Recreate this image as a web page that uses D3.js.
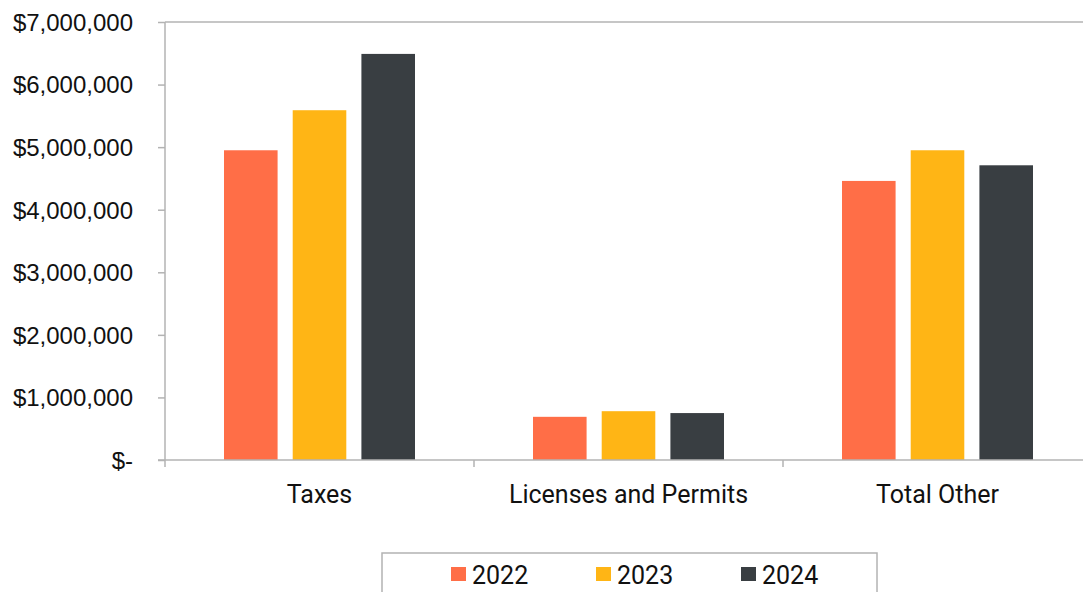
<!DOCTYPE html>
<html lang="en">
<head>
<meta charset="utf-8">
<script src="https://d3js.org/d3.v7.min.js"></script>
<style>
  body { margin: 0; background: #fff; font-family: Roboto, "Open Sans", sans-serif; }
  svg { display: block; }
  .axis text { fill: #111; }
</style>
</head>
<body>
<div id="chart"></div>
<script>
// data
var categories = ["Taxes", "Licenses and Permits", "Total Other"];
var years = ["2022", "2023", "2024"];
var values2022 = [4950000, 690000, 4460000];
var values2023 = [5590000, 780000, 4950000];
var values2024 = [6490000, 750000, 4710000];
var yTicks = [0, 1000000, 2000000, 3000000, 4000000, 5000000, 6000000, 7000000];
var colors = ["#ff6e47", "#ffb515", "#393e42"];

var width = 1083, height = 592;
var margin = {left: 165, right: -9, top: 22, bottom: 132};

var svg = d3.select("#chart").append("svg")
  .attr("width", width).attr("height", height);

var x0 = d3.scaleBand()
  .domain(categories)
  .range([margin.left, width - margin.right]);

var x1 = d3.scaleBand()
  .domain(years)
  .range([0, 191])
  .paddingInner(0.22);

var y = d3.scaleLinear()
  .domain([0, 7000000])
  .range([height - margin.bottom, margin.top]);

var series = [values2022, values2023, values2024];

// top frame line
svg.append("line")
  .attr("x1", margin.left).attr("x2", width)
  .attr("y1", y(7000000)).attr("y2", y(7000000))
  .attr("stroke", "#b3b3b3").attr("stroke-width", 1.5);

// bars
categories.forEach(function(c, i) {
  var g = svg.append("g")
    .attr("transform", "translate(" + (x0(c) + x0.bandwidth() / 2 - 95.5) + ",0)");
  years.forEach(function(yr, j) {
    g.append("rect")
      .attr("x", x1(yr))
      .attr("width", x1.bandwidth())
      .attr("y", y(series[j][i]))
      .attr("height", y(0) - y(series[j][i]))
      .attr("fill", colors[j]);
  });
});

// y axis
var fmt = d3.format(",");
var yAxis = d3.axisLeft(y)
  .tickValues(yTicks)
  .tickSize(7)
  .tickPadding(25)
  .tickFormat(function(d) { return d === 0 ? "$-" : "$" + fmt(d); });

var ya = svg.append("g").attr("class", "axis")
  .attr("transform", "translate(" + margin.left + ",0)")
  .call(yAxis);
ya.selectAll("text").style("font-size", "24px").attr("dy", "0.35em");
ya.selectAll("line, path").attr("stroke", "#b3b3b3").attr("stroke-width", 1.5);
ya.select("path").attr("d", "M0," + y(7000000) + "V" + y(0));

// x axis
var xa = svg.append("g").attr("class", "axis")
  .attr("transform", "translate(0," + y(0) + ")");
xa.append("line")
  .attr("x1", margin.left - 7).attr("x2", width)
  .attr("stroke", "#b3b3b3").attr("stroke-width", 1.5);
var bounds = categories.map(function(c) { return x0(c); });
bounds.forEach(function(b) {
  xa.append("line").attr("x1", b).attr("x2", b).attr("y1", 0).attr("y2", 7)
    .attr("stroke", "#b3b3b3").attr("stroke-width", 1.5);
});
xa.selectAll(".cat").data(categories).enter().append("text")
  .attr("class", "cat")
  .attr("x", function(d) { return x0(d) + x0.bandwidth() / 2; })
  .attr("y", 43)
  .attr("text-anchor", "middle")
  .style("font-size", "25px")
  .text(function(d) { return d; });

// legend
var lg = svg.append("g").attr("transform", "translate(382,553)");
lg.append("rect")
  .attr("x", 0).attr("y", 0).attr("width", 495).attr("height", 50)
  .attr("fill", "#fff").attr("stroke", "#b3b3b3").attr("stroke-width", 1.5);
var lx = d3.scalePoint().domain(years).range([69, 359]);
years.forEach(function(yr, j) {
  lg.append("rect")
    .attr("x", lx(yr)).attr("y", 14)
    .attr("width", 15).attr("height", 14)
    .attr("fill", colors[j]);
  lg.append("text")
    .attr("x", lx(yr) + 21).attr("y", 31)
    .style("font-size", "25px")
    .attr("fill", "#111")
    .text(yr);
});
</script>
</body>
</html>
